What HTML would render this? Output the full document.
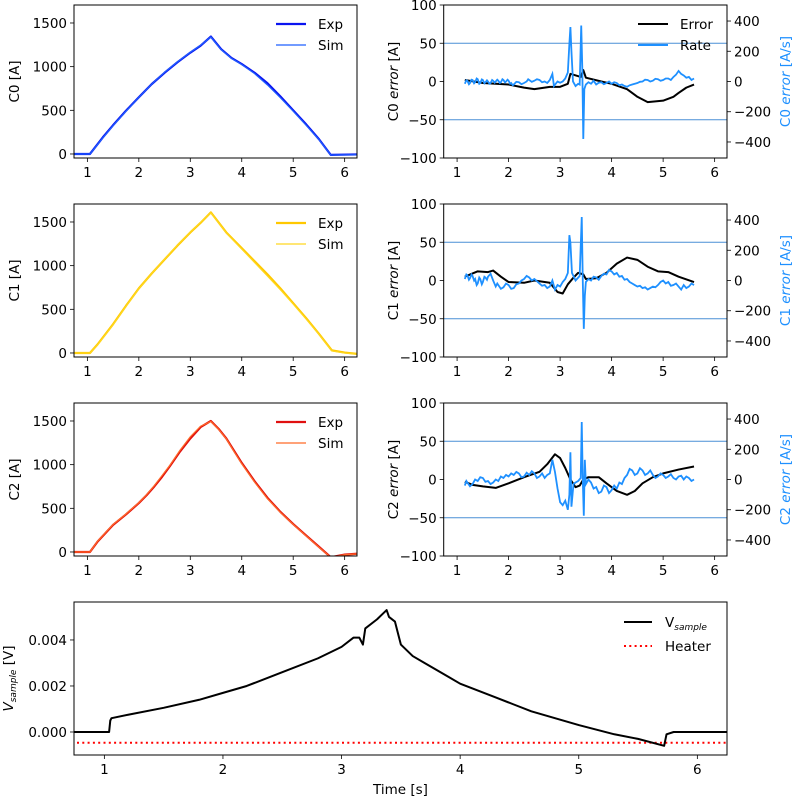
<!DOCTYPE html>
<html><head><meta charset="utf-8">
<style>
html,body{margin:0;padding:0;background:#fff;}
svg{display:block;font-family:"DejaVu Sans","Liberation Sans",sans-serif;}
</style></head>
<body>
<svg id="fig" width="797" height="798" viewBox="0 0 797 798"></svg>
<script>
// ---- data ----
const c0Exp=[[0.74,0],[1.05,0],[1.3,190],[1.5,330],[1.75,495],[2,650],[2.25,800],[2.5,930],[2.75,1050],[3,1160],[3.2,1240],[3.4,1345],[3.6,1200],[3.8,1100],[4,1030],[4.25,930],[4.5,810],[4.75,660],[5,500],[5.25,340],[5.5,170],[5.73,-10],[6.24,-5]];
const c0Sim=[[0.74,0],[1.05,0],[1.3,185],[1.5,325],[1.75,490],[2,648],[2.25,800],[2.5,935],[2.75,1055],[3,1165],[3.2,1245],[3.4,1340],[3.6,1195],[3.8,1095],[4,1025],[4.25,920],[4.5,790],[4.75,645],[5,490],[5.25,330],[5.5,165],[5.73,-12],[6.24,-8]];
const c1Exp=[[0.74,0],[1.05,0],[1.2,100],[1.5,330],[1.75,540],[2,740],[2.25,910],[2.5,1070],[2.75,1230],[3,1380],[3.2,1490],[3.4,1610],[3.7,1380],[4,1200],[4.25,1050],[4.5,900],[4.75,740],[5,570],[5.25,400],[5.5,220],[5.75,30],[6,5],[6.24,-10]];
const c1Sim=[[0.74,0],[1.05,0],[1.2,95],[1.5,325],[1.75,535],[2,735],[2.25,910],[2.5,1075],[2.75,1235],[3,1385],[3.2,1495],[3.4,1605],[3.7,1375],[4,1190],[4.25,1035],[4.5,880],[4.75,725],[5,560],[5.25,390],[5.5,215],[5.75,25],[6,0],[6.24,-12]];
const c2Exp=[[0.74,0],[1.05,0],[1.2,120],[1.5,310],[1.75,430],[2,560],[2.15,650],[2.3,750],[2.45,860],[2.6,980],[2.8,1150],[3,1300],[3.2,1430],[3.4,1500],[3.55,1410],[3.7,1300],[3.85,1160],[4,1020],[4.25,810],[4.5,620],[4.75,460],[5,320],[5.25,190],[5.5,60],[5.73,-60],[6,-30],[6.24,-20]];
const c2Sim=[[0.74,0],[1.05,0],[1.2,125],[1.5,315],[1.75,435],[2,565],[2.15,655],[2.3,760],[2.45,875],[2.6,990],[2.8,1165],[3,1320],[3.2,1440],[3.4,1495],[3.55,1405],[3.7,1295],[3.85,1150],[4,1010],[4.25,800],[4.5,610],[4.75,455],[5,315],[5.25,185],[5.5,55],[5.73,-62],[6,-32],[6.24,-22]];
const c0Err=[[1.15,2],[1.5,-2],[2,-4],[2.3,-8],[2.5,-10],[2.8,-7],[3.0,-7],[3.15,-3],[3.2,10],[3.4,6],[3.45,15],[3.5,5],[3.8,0],[4,-3],[4.3,-10],[4.5,-20],[4.7,-27],[5,-25],[5.2,-20],[5.3,-15],[5.45,-8],[5.6,-4]];
const c0Rate=[[1.15,-15],[1.18,8],[1.2,5],[1.23,-18],[1.25,-10],[1.28,12],[1.3,10],[1.33,-12],[1.35,-5],[1.38,20],[1.4,15],[1.43,-15],[1.45,-10],[1.48,14],[1.5,10],[1.53,-12],[1.55,-5],[1.58,8],[1.6,0],[1.63,-15],[1.65,-10],[1.68,10],[1.7,5],[1.73,-8],[1.75,0],[1.78,12],[1.8,5],[1.83,-10],[1.85,-5],[1.88,15],[1.9,10],[1.93,-6],[1.95,0],[1.98,12],[2.0,5],[2.03,-15],[2.05,-10],[2.08,-25],[2.1,-20],[2.15,-2],[2.2,-5],[2.25,-18],[2.3,-10],[2.35,0],[2.38,15],[2.4,10],[2.45,-2],[2.5,5],[2.55,15],[2.6,10],[2.65,-5],[2.7,0],[2.75,-10],[2.8,10],[2.85,50],[2.88,-30],[2.95,0],[3.0,-8],[3.05,0],[3.1,20],[3.15,60],[3.18,250],[3.2,360],[3.22,200],[3.25,0],[3.3,-30],[3.35,-15],[3.38,-20],[3.41,370],[3.43,100],[3.45,-380],[3.47,-50],[3.5,-20],[3.55,-5],[3.6,-15],[3.65,5],[3.7,-20],[3.75,-8],[3.8,-5],[3.85,-18],[3.9,-10],[3.95,0],[4.0,-15],[4.05,-5],[4.1,-10],[4.15,-25],[4.2,-20],[4.25,-30],[4.3,-35],[4.35,-25],[4.4,-20],[4.45,-15],[4.5,-10],[4.55,-2],[4.6,0],[4.65,12],[4.7,10],[4.75,0],[4.8,5],[4.85,18],[4.9,15],[4.95,5],[5.0,10],[5.05,20],[5.1,20],[5.15,10],[5.2,30],[5.25,45],[5.3,70],[5.35,50],[5.4,40],[5.45,25],[5.5,30],[5.55,10],[5.6,20]];
const c1Err=[[1.15,5],[1.4,12],[1.6,11],[1.7,13],[1.85,5],[2,-2],[2.3,-3],[2.5,0],[2.8,-3],[2.95,-15],[3.05,-17],[3.15,-5],[3.25,3],[3.35,10],[3.45,8],[3.5,2],[3.7,3],[3.9,10],[4.1,22],[4.3,30],[4.5,27],[4.7,18],[4.9,12],[5.1,11],[5.3,5],[5.6,-2]];
const c1Rate=[[1.15,10],[1.18,40],[1.2,35],[1.23,5],[1.25,15],[1.28,40],[1.3,30],[1.33,0],[1.35,10],[1.38,-30],[1.4,-20],[1.43,20],[1.45,10],[1.48,-25],[1.5,-10],[1.53,25],[1.55,20],[1.58,5],[1.6,25],[1.65,45],[1.7,0],[1.75,-40],[1.78,-20],[1.8,-30],[1.85,-55],[1.9,-45],[1.95,-20],[2.0,-30],[2.05,-55],[2.1,-50],[2.15,-25],[2.2,-20],[2.25,0],[2.3,10],[2.35,30],[2.4,20],[2.45,0],[2.5,10],[2.55,-5],[2.6,-20],[2.65,-35],[2.7,-30],[2.75,-50],[2.8,-40],[2.85,0],[2.9,-60],[2.95,-30],[3.0,-40],[3.05,-10],[3.1,10],[3.15,50],[3.18,300],[3.2,250],[3.23,50],[3.3,0],[3.38,30],[3.42,420],[3.44,0],[3.46,-320],[3.48,-100],[3.5,-10],[3.55,10],[3.6,0],[3.65,25],[3.7,20],[3.75,5],[3.8,30],[3.85,45],[3.9,40],[3.95,70],[4.0,60],[4.05,40],[4.1,50],[4.15,25],[4.2,30],[4.25,5],[4.3,10],[4.35,-10],[4.4,-20],[4.45,-30],[4.5,-40],[4.55,-35],[4.6,-50],[4.65,-45],[4.7,-60],[4.75,-50],[4.8,-40],[4.85,-45],[4.9,-30],[4.95,-10],[5.0,0],[5.05,-20],[5.1,-10],[5.15,-35],[5.2,-30],[5.25,-20],[5.3,-40],[5.35,-60],[5.4,-30],[5.45,-50],[5.5,-40],[5.55,-20],[5.6,-30]];
const c2Err=[[1.15,-3],[1.3,-7],[1.5,-9],[1.75,-11],[2,-5],[2.3,3],[2.6,10],[2.75,20],[2.9,33],[3.0,28],[3.1,15],[3.2,0],[3.3,-10],[3.38,-8],[3.45,0],[3.55,3],[3.75,3],[3.9,-5],[4.1,-15],[4.3,-20],[4.45,-15],[4.6,-5],[4.8,3],[5.0,8],[5.3,13],[5.6,17]];
const c2Rate=[[1.15,-40],[1.18,-10],[1.2,-20],[1.25,-45],[1.3,-30],[1.35,0],[1.4,-10],[1.45,15],[1.5,10],[1.55,-15],[1.6,-10],[1.65,-30],[1.7,-20],[1.75,0],[1.8,-10],[1.85,20],[1.9,10],[1.95,30],[2.0,20],[2.05,40],[2.1,30],[2.15,50],[2.2,40],[2.25,15],[2.3,20],[2.35,45],[2.4,30],[2.45,55],[2.5,40],[2.55,10],[2.6,20],[2.65,40],[2.7,10],[2.75,30],[2.8,40],[2.85,130],[2.9,50],[2.95,-60],[3.0,-150],[3.05,-170],[3.1,-140],[3.15,-200],[3.18,-100],[3.2,180],[3.22,-180],[3.26,-30],[3.3,-20],[3.35,-10],[3.4,10],[3.42,380],[3.44,0],[3.46,-240],[3.48,130],[3.5,-30],[3.55,0],[3.6,-20],[3.65,-60],[3.7,-50],[3.75,-90],[3.8,-80],[3.85,-40],[3.9,-50],[3.95,-90],[4.0,-70],[4.05,-40],[4.1,-60],[4.15,-20],[4.2,-30],[4.25,10],[4.3,30],[4.35,70],[4.4,60],[4.45,30],[4.5,40],[4.55,75],[4.6,60],[4.65,30],[4.7,40],[4.75,60],[4.8,30],[4.85,10],[4.9,20],[4.95,40],[5.0,30],[5.05,10],[5.1,20],[5.15,35],[5.2,10],[5.25,0],[5.3,20],[5.35,25],[5.4,0],[5.45,20],[5.5,10],[5.55,-10],[5.6,0]];
const vSample=[[0.74,0],[1.04,0],[1.05,0.0005],[1.06,0.0006],[1.2,0.00075],[1.5,0.00105],[1.8,0.0014],[2,0.0017],[2.2,0.002],[2.5,0.0026],[2.8,0.0032],[3,0.0037],[3.1,0.0041],[3.15,0.0041],[3.18,0.0038],[3.2,0.0045],[3.3,0.0049],[3.38,0.0053],[3.4,0.005],[3.45,0.0048],[3.5,0.0038],[3.6,0.0033],[3.7,0.0030],[3.8,0.0027],[3.9,0.0024],[4,0.0021],[4.15,0.0018],[4.3,0.0015],[4.45,0.0012],[4.6,0.0009],[4.8,0.0006],[5,0.0003],[5.15,0.0001],[5.3,-0.0001],[5.5,-0.0003],[5.72,-0.0006],[5.74,-0.0001],[5.8,0],[6.25,0]];
const heaterLevel=-0.00047;
const xTicks=[1,2,3,4,5,6];
const curTicks=[0,500,1000,1500];
const errTicks=[-100,-50,0,50,100];
const rateTicks=[-400,-200,0,200,400];
const errLimits=[-50,50];
const vTicks=[0,0.002,0.004];
const vTickLabels=["0.000","0.002","0.004"];

// ---- drawing ----
const FS=13.5;
const svg=document.getElementById('fig');
const NS='http://www.w3.org/2000/svg';
function el(tag,attrs,parent){const e=document.createElementNS(NS,tag);for(const k in attrs)e.setAttribute(k,attrs[k]);(parent||svg).appendChild(e);return e;}
function txt(x,y,s,anchor,parent,extra){const t=el('text',Object.assign({x:x,y:y,'font-size':FS,'text-anchor':anchor||'middle',fill:'#000'},extra||{}),parent);t.textContent=s;return t;}
function scale(d0,d1,r0,r1){return v=>r0+(v-d0)/(d1-d0)*(r1-r0);}
function pathOf(data,sx,sy){return data.map((p,i)=>(i?'L':'M')+sx(p[0]).toFixed(2)+','+sy(p[1]).toFixed(2)).join('');}
function xAxis(g,sx,bottom){xTicks.forEach(t=>{el('line',{x1:sx(t),x2:sx(t),y1:bottom,y2:bottom+4,stroke:'#000','stroke-width':0.8},g);txt(sx(t),bottom+19,String(t),'middle',g);});}
function frame(g,L,R,T,B,name){const r=el('rect',{x:L,y:T,width:R-L,height:B-T,fill:'none',stroke:'#000','stroke-width':1},g);}

const rows=[[5,158],[204,357],[403,556]];
const curSets=[[c0Exp,c0Sim,'#0a14f0','#1f5fff','C0'],[c1Exp,c1Sim,'#ffc800','#ffd820','C1'],[c2Exp,c2Sim,'#e01010','#ff6a28','C2']];
const errSets=[[c0Err,c0Rate],[c1Err,c1Rate],[c2Err,c2Rate]];

rows.forEach((rw,i)=>{
  const T=rw[0],B=rw[1];
  const g=el('g',{});
  
  
  const L=74,R=357;
  const sx=scale(0.74,6.24,L,R), sy=scale(-46,1706,B,T);
  const cp=el('clipPath',{id:'cl'+i},g);el('rect',{x:L,y:T,width:R-L,height:B-T},cp);
  const pe=el('path',{d:pathOf(curSets[i][0],sx,sy),fill:'none',stroke:curSets[i][2],'stroke-width':2.2,'stroke-linejoin':'round','clip-path':'url(#cl'+i+')'},g);
  
  const ps=el('path',{d:pathOf(curSets[i][1],sx,sy),fill:'none',stroke:curSets[i][3],'stroke-width':1.2,'clip-path':'url(#cl'+i+')'},g);
  
  frame(g,L,R,T,B,'current-axes-frame');
  curTicks.forEach(t=>{el('line',{x1:L-4,x2:L,y1:sy(t),y2:sy(t),stroke:'#000','stroke-width':0.8},g);txt(L-7,sy(t)+5,String(t),'end',g);});
  xAxis(g,sx,B);
  const yl=txt(0,0,curSets[i][4]+' [A]','middle',g,{transform:'translate(19,'+((T+B)/2)+') rotate(-90)'});
  
  const lg=el('g',{},g);
  el('line',{x1:276,x2:306,y1:T+19,y2:T+19,stroke:curSets[i][2],'stroke-width':2.2},lg);txt(318,T+24,'Exp','start',lg);
  el('line',{x1:276,x2:306,y1:T+40,y2:T+40,stroke:curSets[i][3],'stroke-width':1.2},lg);txt(318,T+45,'Sim','start',lg);

  const h=el('g',{});
  
  
  const L2=443.7,R2=727;
  const sx2=scale(0.74,6.24,L2,R2), sy2=scale(-100,100,B,T), sr=scale(-506,506,B,T);
  const cp2=el('clipPath',{id:'cr'+i},h);el('rect',{x:L2,y:T,width:R2-L2,height:B-T},cp2);
  errLimits.forEach(v=>{const l=el('line',{x1:L2,x2:R2,y1:sy2(v),y2:sy2(v),stroke:'#4a8fd6','stroke-width':1},h);});
  const pr=el('path',{d:pathOf(errSets[i][0],sx2,sy2),fill:'none',stroke:'#000','stroke-width':2,'stroke-linejoin':'round','clip-path':'url(#cr'+i+')'},h);
  
  const pq=el('path',{d:pathOf(errSets[i][1],sx2,sr),fill:'none',stroke:'#1e90ff','stroke-width':1.8,'clip-path':'url(#cr'+i+')'},h);
  
  frame(h,L2,R2,T,B,'error-axes-frame');
  errTicks.forEach(t=>{el('line',{x1:L2-4,x2:L2,y1:sy2(t),y2:sy2(t),stroke:'#000','stroke-width':0.8},h);txt(L2-7,sy2(t)+5,t<0?'\u2212'+(-t):String(t),'end',h);});
  rateTicks.forEach(t=>{el('line',{x1:R2,x2:R2+4,y1:sr(t),y2:sr(t),stroke:'#000','stroke-width':0.8},h);txt(R2+7,sr(t)+5,t<0?'\u2212'+(-t):String(t),'start',h);});
  xAxis(h,sx2,B);
  const el1=el('text',{'font-size':FS,'text-anchor':'middle',transform:'translate(398,'+((T+B)/2)+') rotate(-90)'},h);
  el1.innerHTML=curSets[i][4]+' <tspan font-style="italic">error</tspan> [A]';
  
  const el2=el('text',{'font-size':FS,'text-anchor':'middle',fill:'#1e90ff',transform:'translate(790,'+((T+B)/2)+') rotate(-90)'},h);
  el2.innerHTML=curSets[i][4]+' <tspan font-style="italic">error</tspan> [A/s]';
  
  if(i===0){
    const lg2=el('g',{},h);
    el('line',{x1:638,x2:668,y1:T+19,y2:T+19,stroke:'#000','stroke-width':2},lg2);txt(680,T+24,'Error','start',lg2);
    el('line',{x1:638,x2:668,y1:T+40,y2:T+40,stroke:'#1e90ff','stroke-width':2},lg2);txt(680,T+45,'Rate','start',lg2);
  }
});

(function(){
  const T=602,B=755,L=74,R=727;
  const g=el('g',{});
  const sx=scale(0.744,6.25,L,R), sy=scale(-0.001,0.00565,B,T);
  const cp=el('clipPath',{id:'cv'},g);el('rect',{x:L,y:T,width:R-L,height:B-T},cp);
  const hl=el('line',{x1:L+3,x2:R,y1:sy(heaterLevel),y2:sy(heaterLevel),stroke:'#ff0000','stroke-width':2,'stroke-dasharray':'2,3.3'},g);
  
  const pv=el('path',{d:pathOf(vSample,sx,sy),fill:'none',stroke:'#000','stroke-width':2,'stroke-linejoin':'round','clip-path':'url(#cv)'},g);
  
  frame(g,L,R,T,B,'voltage-axes-frame');
  vTicks.forEach((t,k)=>{el('line',{x1:L-4,x2:L,y1:sy(t),y2:sy(t),stroke:'#000','stroke-width':0.8},g);txt(L-7,sy(t)+5,vTickLabels[k],'end',g);});
  xTicks.forEach(t=>{el('line',{x1:sx(t),x2:sx(t),y1:B,y2:B+4,stroke:'#000','stroke-width':0.8},g);txt(sx(t),B+19,String(t),'middle',g);});
  const xl=txt((L+R)/2,794,'Time [s]','middle',g);
  const yl=el('text',{'font-size':FS,'text-anchor':'middle',transform:'translate(13,'+((T+B)/2)+') rotate(-90)'},g);
  yl.innerHTML='<tspan font-style="italic">V</tspan><tspan font-style="italic" font-size="9" dy="3">sample</tspan><tspan dy="-3"> [V]</tspan>';
  
  const lg=el('g',{},g);
  el('line',{x1:624,x2:652,y1:622,y2:622,stroke:'#000','stroke-width':2},lg);
  const lt=el('text',{x:665,y:627,'font-size':FS},lg);lt.innerHTML='V<tspan font-size="9" font-style="italic" dy="3">sample</tspan>';
  el('line',{x1:624,x2:652,y1:646,y2:646,stroke:'#ff0000','stroke-width':2,'stroke-dasharray':'2,3.3'},lg);
  txt(665,651,'Heater','start',lg);
})();
</script>
</body></html>
